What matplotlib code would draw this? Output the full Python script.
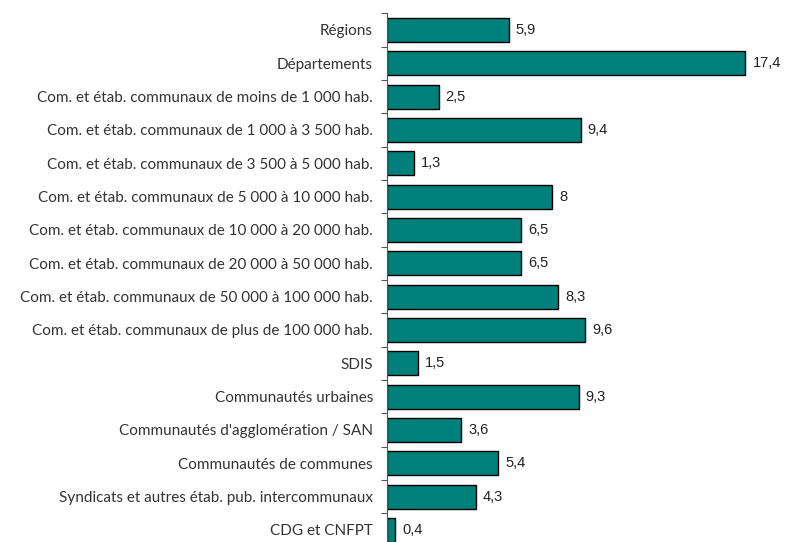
import matplotlib.pyplot as plt
import numpy as np

categories = [
    'Régions',
    'Départements',
    'Com. et étab. communaux de moins de 1 000 hab.',
    'Com. et étab. communaux de 1 000 à 3 500 hab.',
    'Com. et étab. communaux de 3 500 à 5 000 hab.',
    'Com. et étab. communaux de 5 000 à 10 000 hab.',
    'Com. et étab. communaux de 10 000 à 20 000 hab.',
    'Com. et étab. communaux de 20 000 à 50 000 hab.',
    'Com. et étab. communaux de 50 000 à 100 000 hab.',
    'Com. et étab. communaux de plus de 100 000 hab.',
    'SDIS',
    'Communautés urbaines',
    "Communautés d'agglomération / SAN",
    'Communautés de communes',
    'Syndicats et autres étab. pub. intercommunaux',
    'CDG et CNFPT',
]
values = [5.9, 17.4, 2.5, 9.4, 1.3, 8, 6.5, 6.5, 8.3, 9.6, 1.5, 9.3, 3.6, 5.4, 4.3, 0.4]

W, H = 785, 542
fig = plt.figure(figsize=(W / 100, H / 100), dpi=100)
# axes placed in pixel terms; the last row runs off the bottom like the original
left, top, step = 387, 13.3, 33.33
n = len(categories)
ax_h = n * step
ax = fig.add_axes([left / W, (H - top - ax_h) / H, 412 / W, ax_h / H])

y = np.arange(n)
ax.barh(y, values, height=0.72, color='#00807A', edgecolor='black', linewidth=1.0)
ax.set_ylim(n - 0.5, -0.5)
ax.set_xlim(0, 20)

for yi, v in zip(y, values):
    lbl = f'{v:g}'.replace('.', ',')
    ax.text(v + 0.35, yi, lbl, va='center', ha='left', fontsize=10.5,
            family='Liberation Sans', color='#222222')

ax.set_yticks(y)
ax.set_yticklabels(categories, family='Lato', fontsize=11, color='#333333')
ax.set_yticks(np.arange(n + 1) - 0.5, minor=True)
ax.tick_params(axis='y', which='major', length=0, pad=10)
ax.tick_params(axis='y', which='minor', length=4, width=0.8, color='#555555')
ax.set_xticks([])
for s in ['top', 'right', 'bottom']:
    ax.spines[s].set_visible(False)
ax.spines['left'].set_color('#555555')
ax.spines['left'].set_linewidth(0.8)

fig.savefig('out.png', dpi=100)
